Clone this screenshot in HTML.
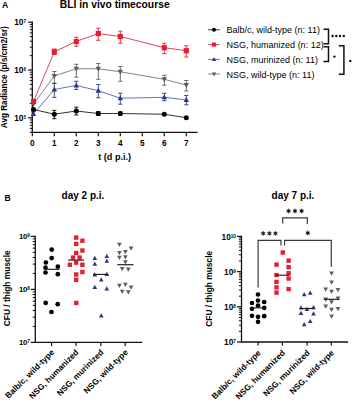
<!DOCTYPE html>
<html><head><meta charset="utf-8"><style>
html,body{margin:0;padding:0;background:#fff;}
svg{display:block;font-family:"Liberation Sans", sans-serif;}
</style></head><body>
<svg width="352" height="400" viewBox="0 0 352 400" font-family="Liberation Sans, sans-serif">
<rect width="352" height="400" fill="#fff"/>
<text x="2.00" y="7.70" font-size="8.6" font-weight="bold" text-anchor="start" fill="#000" >A</text>
<text x="114.70" y="7.60" font-size="10.3" font-weight="bold" text-anchor="middle" fill="#000" >BLI in vivo timecourse</text>
<line x1="32.30" y1="21.60" x2="32.30" y2="132.90" stroke="#111111" stroke-width="1.3"/>
<line x1="28.10" y1="22.20" x2="32.30" y2="22.20" stroke="#111111" stroke-width="1.2"/>
<text x="26.00" y="25.20" font-size="8.3" font-weight="bold" text-anchor="end">10<tspan font-size="4.6" dy="-1.9">7</tspan></text>
<line x1="28.10" y1="70.00" x2="32.30" y2="70.00" stroke="#111111" stroke-width="1.2"/>
<text x="26.00" y="73.00" font-size="8.3" font-weight="bold" text-anchor="end">10<tspan font-size="4.6" dy="-1.9">6</tspan></text>
<line x1="28.10" y1="117.80" x2="32.30" y2="117.80" stroke="#111111" stroke-width="1.2"/>
<text x="26.00" y="120.80" font-size="8.3" font-weight="bold" text-anchor="end">10<tspan font-size="4.6" dy="-1.9">5</tspan></text>
<line x1="29.80" y1="132.19" x2="32.30" y2="132.19" stroke="#111111" stroke-width="1.0"/>
<line x1="29.80" y1="128.40" x2="32.30" y2="128.40" stroke="#111111" stroke-width="1.0"/>
<line x1="29.80" y1="125.20" x2="32.30" y2="125.20" stroke="#111111" stroke-width="1.0"/>
<line x1="29.80" y1="122.43" x2="32.30" y2="122.43" stroke="#111111" stroke-width="1.0"/>
<line x1="29.80" y1="119.99" x2="32.30" y2="119.99" stroke="#111111" stroke-width="1.0"/>
<line x1="29.80" y1="103.41" x2="32.30" y2="103.41" stroke="#111111" stroke-width="1.0"/>
<line x1="29.80" y1="94.99" x2="32.30" y2="94.99" stroke="#111111" stroke-width="1.0"/>
<line x1="29.80" y1="89.02" x2="32.30" y2="89.02" stroke="#111111" stroke-width="1.0"/>
<line x1="29.80" y1="84.39" x2="32.30" y2="84.39" stroke="#111111" stroke-width="1.0"/>
<line x1="29.80" y1="80.60" x2="32.30" y2="80.60" stroke="#111111" stroke-width="1.0"/>
<line x1="29.80" y1="77.40" x2="32.30" y2="77.40" stroke="#111111" stroke-width="1.0"/>
<line x1="29.80" y1="74.63" x2="32.30" y2="74.63" stroke="#111111" stroke-width="1.0"/>
<line x1="29.80" y1="72.19" x2="32.30" y2="72.19" stroke="#111111" stroke-width="1.0"/>
<line x1="29.80" y1="55.61" x2="32.30" y2="55.61" stroke="#111111" stroke-width="1.0"/>
<line x1="29.80" y1="47.19" x2="32.30" y2="47.19" stroke="#111111" stroke-width="1.0"/>
<line x1="29.80" y1="41.22" x2="32.30" y2="41.22" stroke="#111111" stroke-width="1.0"/>
<line x1="29.80" y1="36.59" x2="32.30" y2="36.59" stroke="#111111" stroke-width="1.0"/>
<line x1="29.80" y1="32.80" x2="32.30" y2="32.80" stroke="#111111" stroke-width="1.0"/>
<line x1="29.80" y1="29.60" x2="32.30" y2="29.60" stroke="#111111" stroke-width="1.0"/>
<line x1="29.80" y1="26.83" x2="32.30" y2="26.83" stroke="#111111" stroke-width="1.0"/>
<line x1="29.80" y1="24.39" x2="32.30" y2="24.39" stroke="#111111" stroke-width="1.0"/>
<line x1="31.70" y1="132.30" x2="197.60" y2="132.30" stroke="#111111" stroke-width="1.3"/>
<line x1="32.30" y1="132.30" x2="32.30" y2="136.30" stroke="#111111" stroke-width="1.2"/>
<text x="32.30" y="146.00" font-size="8.2" font-weight="bold" text-anchor="middle" fill="#000" >0</text>
<line x1="54.30" y1="132.30" x2="54.30" y2="136.30" stroke="#111111" stroke-width="1.2"/>
<text x="54.30" y="146.00" font-size="8.2" font-weight="bold" text-anchor="middle" fill="#000" >1</text>
<line x1="76.30" y1="132.30" x2="76.30" y2="136.30" stroke="#111111" stroke-width="1.2"/>
<text x="76.30" y="146.00" font-size="8.2" font-weight="bold" text-anchor="middle" fill="#000" >2</text>
<line x1="98.30" y1="132.30" x2="98.30" y2="136.30" stroke="#111111" stroke-width="1.2"/>
<text x="98.30" y="146.00" font-size="8.2" font-weight="bold" text-anchor="middle" fill="#000" >3</text>
<line x1="120.30" y1="132.30" x2="120.30" y2="136.30" stroke="#111111" stroke-width="1.2"/>
<text x="120.30" y="146.00" font-size="8.2" font-weight="bold" text-anchor="middle" fill="#000" >4</text>
<line x1="142.30" y1="132.30" x2="142.30" y2="136.30" stroke="#111111" stroke-width="1.2"/>
<text x="142.30" y="146.00" font-size="8.2" font-weight="bold" text-anchor="middle" fill="#000" >5</text>
<line x1="164.30" y1="132.30" x2="164.30" y2="136.30" stroke="#111111" stroke-width="1.2"/>
<text x="164.30" y="146.00" font-size="8.2" font-weight="bold" text-anchor="middle" fill="#000" >6</text>
<line x1="186.30" y1="132.30" x2="186.30" y2="136.30" stroke="#111111" stroke-width="1.2"/>
<text x="186.30" y="146.00" font-size="8.2" font-weight="bold" text-anchor="middle" fill="#000" >7</text>
<text x="114.70" y="159.80" font-size="9.1" font-weight="bold" text-anchor="middle" fill="#000" >t (d p.i.)</text>
<text x="0" y="0" font-size="8.2" font-weight="bold" text-anchor="middle" transform="translate(7.2,77.2) rotate(-90)">Avg Radiance (p/s/cm2/sr)</text>
<polyline points="33.50,104.00 54.30,76.00 76.30,68.75 98.30,68.75 120.30,71.75 164.30,79.30 186.30,85.00" fill="none" stroke="#858585" stroke-width="1.0"/>
<polyline points="33.50,114.00 54.30,89.50 76.30,85.45 98.30,90.70 120.30,98.20 164.30,97.30 186.30,100.00" fill="none" stroke="#6a74b4" stroke-width="1.0"/>
<polyline points="33.50,109.50 54.30,114.20 76.30,111.00 98.30,113.50 120.30,113.50 164.30,114.25 186.30,117.70" fill="none" stroke="#333" stroke-width="1.0"/>
<polyline points="33.50,101.50 54.30,51.75 76.30,41.45 98.30,33.50 120.30,36.50 164.30,47.70 186.30,50.70" fill="none" stroke="#d9475e" stroke-width="1.0"/>
<line x1="54.30" y1="71.50" x2="54.30" y2="83.20" stroke="#5e5e5e" stroke-width="0.9"/>
<line x1="52.20" y1="71.50" x2="56.40" y2="71.50" stroke="#5e5e5e" stroke-width="0.9"/>
<line x1="52.20" y1="83.20" x2="56.40" y2="83.20" stroke="#5e5e5e" stroke-width="0.9"/>
<line x1="76.30" y1="64.25" x2="76.30" y2="77.20" stroke="#5e5e5e" stroke-width="0.9"/>
<line x1="74.20" y1="64.25" x2="78.40" y2="64.25" stroke="#5e5e5e" stroke-width="0.9"/>
<line x1="74.20" y1="77.20" x2="78.40" y2="77.20" stroke="#5e5e5e" stroke-width="0.9"/>
<line x1="98.30" y1="63.50" x2="98.30" y2="79.30" stroke="#5e5e5e" stroke-width="0.9"/>
<line x1="96.20" y1="63.50" x2="100.40" y2="63.50" stroke="#5e5e5e" stroke-width="0.9"/>
<line x1="96.20" y1="79.30" x2="100.40" y2="79.30" stroke="#5e5e5e" stroke-width="0.9"/>
<line x1="120.30" y1="66.50" x2="120.30" y2="81.25" stroke="#5e5e5e" stroke-width="0.9"/>
<line x1="118.20" y1="66.50" x2="122.40" y2="66.50" stroke="#5e5e5e" stroke-width="0.9"/>
<line x1="118.20" y1="81.25" x2="122.40" y2="81.25" stroke="#5e5e5e" stroke-width="0.9"/>
<line x1="164.30" y1="75.25" x2="164.30" y2="85.30" stroke="#5e5e5e" stroke-width="0.9"/>
<line x1="162.20" y1="75.25" x2="166.40" y2="75.25" stroke="#5e5e5e" stroke-width="0.9"/>
<line x1="162.20" y1="85.30" x2="166.40" y2="85.30" stroke="#5e5e5e" stroke-width="0.9"/>
<line x1="186.30" y1="80.50" x2="186.30" y2="91.00" stroke="#5e5e5e" stroke-width="0.9"/>
<line x1="184.20" y1="80.50" x2="188.40" y2="80.50" stroke="#5e5e5e" stroke-width="0.9"/>
<line x1="184.20" y1="91.00" x2="188.40" y2="91.00" stroke="#5e5e5e" stroke-width="0.9"/>
<polygon points="33.50,106.92 30.80,102.06 36.20,102.06" fill="#5e5e5e"/>
<polygon points="54.30,78.92 51.60,74.06 57.00,74.06" fill="#5e5e5e"/>
<polygon points="76.30,71.67 73.60,66.81 79.00,66.81" fill="#5e5e5e"/>
<polygon points="98.30,71.67 95.60,66.81 101.00,66.81" fill="#5e5e5e"/>
<polygon points="120.30,74.67 117.60,69.81 123.00,69.81" fill="#5e5e5e"/>
<polygon points="164.30,82.22 161.60,77.36 167.00,77.36" fill="#5e5e5e"/>
<polygon points="186.30,87.92 183.60,83.06 189.00,83.06" fill="#5e5e5e"/>
<line x1="54.30" y1="83.50" x2="54.30" y2="97.40" stroke="#2c3787" stroke-width="0.9"/>
<line x1="52.20" y1="83.50" x2="56.40" y2="83.50" stroke="#2c3787" stroke-width="0.9"/>
<line x1="52.20" y1="97.40" x2="56.40" y2="97.40" stroke="#2c3787" stroke-width="0.9"/>
<line x1="76.30" y1="81.25" x2="76.30" y2="89.50" stroke="#2c3787" stroke-width="0.9"/>
<line x1="74.20" y1="81.25" x2="78.40" y2="81.25" stroke="#2c3787" stroke-width="0.9"/>
<line x1="74.20" y1="89.50" x2="78.40" y2="89.50" stroke="#2c3787" stroke-width="0.9"/>
<line x1="98.30" y1="84.55" x2="98.30" y2="97.75" stroke="#2c3787" stroke-width="0.9"/>
<line x1="96.20" y1="84.55" x2="100.40" y2="84.55" stroke="#2c3787" stroke-width="0.9"/>
<line x1="96.20" y1="97.75" x2="100.40" y2="97.75" stroke="#2c3787" stroke-width="0.9"/>
<line x1="120.30" y1="93.25" x2="120.30" y2="104.20" stroke="#2c3787" stroke-width="0.9"/>
<line x1="118.20" y1="93.25" x2="122.40" y2="93.25" stroke="#2c3787" stroke-width="0.9"/>
<line x1="118.20" y1="104.20" x2="122.40" y2="104.20" stroke="#2c3787" stroke-width="0.9"/>
<line x1="164.30" y1="93.25" x2="164.30" y2="100.75" stroke="#2c3787" stroke-width="0.9"/>
<line x1="162.20" y1="93.25" x2="166.40" y2="93.25" stroke="#2c3787" stroke-width="0.9"/>
<line x1="162.20" y1="100.75" x2="166.40" y2="100.75" stroke="#2c3787" stroke-width="0.9"/>
<line x1="186.30" y1="95.50" x2="186.30" y2="104.80" stroke="#2c3787" stroke-width="0.9"/>
<line x1="184.20" y1="95.50" x2="188.40" y2="95.50" stroke="#2c3787" stroke-width="0.9"/>
<line x1="184.20" y1="104.80" x2="188.40" y2="104.80" stroke="#2c3787" stroke-width="0.9"/>
<polygon points="33.50,111.08 30.80,115.94 36.20,115.94" fill="#2c3787"/>
<polygon points="54.30,86.58 51.60,91.44 57.00,91.44" fill="#2c3787"/>
<polygon points="76.30,82.53 73.60,87.39 79.00,87.39" fill="#2c3787"/>
<polygon points="98.30,87.78 95.60,92.64 101.00,92.64" fill="#2c3787"/>
<polygon points="120.30,95.28 117.60,100.14 123.00,100.14" fill="#2c3787"/>
<polygon points="164.30,94.38 161.60,99.24 167.00,99.24" fill="#2c3787"/>
<polygon points="186.30,97.08 183.60,101.94 189.00,101.94" fill="#2c3787"/>
<line x1="54.30" y1="110.40" x2="54.30" y2="118.70" stroke="#000000" stroke-width="0.9"/>
<line x1="52.20" y1="110.40" x2="56.40" y2="110.40" stroke="#000000" stroke-width="0.9"/>
<line x1="52.20" y1="118.70" x2="56.40" y2="118.70" stroke="#000000" stroke-width="0.9"/>
<line x1="76.30" y1="107.20" x2="76.30" y2="115.00" stroke="#000000" stroke-width="0.9"/>
<line x1="74.20" y1="107.20" x2="78.40" y2="107.20" stroke="#000000" stroke-width="0.9"/>
<line x1="74.20" y1="115.00" x2="78.40" y2="115.00" stroke="#000000" stroke-width="0.9"/>
<line x1="98.30" y1="111.50" x2="98.30" y2="115.50" stroke="#000000" stroke-width="0.9"/>
<line x1="96.20" y1="111.50" x2="100.40" y2="111.50" stroke="#000000" stroke-width="0.9"/>
<line x1="96.20" y1="115.50" x2="100.40" y2="115.50" stroke="#000000" stroke-width="0.9"/>
<line x1="120.30" y1="112.00" x2="120.30" y2="115.00" stroke="#000000" stroke-width="0.9"/>
<line x1="118.20" y1="112.00" x2="122.40" y2="112.00" stroke="#000000" stroke-width="0.9"/>
<line x1="118.20" y1="115.00" x2="122.40" y2="115.00" stroke="#000000" stroke-width="0.9"/>
<circle cx="33.50" cy="109.50" r="2.5" fill="#000000"/>
<circle cx="54.30" cy="114.20" r="2.5" fill="#000000"/>
<circle cx="76.30" cy="111.00" r="2.5" fill="#000000"/>
<circle cx="98.30" cy="113.50" r="2.5" fill="#000000"/>
<circle cx="120.30" cy="113.50" r="2.5" fill="#000000"/>
<circle cx="164.30" cy="114.25" r="2.5" fill="#000000"/>
<circle cx="186.30" cy="117.70" r="2.5" fill="#000000"/>
<line x1="54.30" y1="49.00" x2="54.30" y2="54.50" stroke="#e61e32" stroke-width="0.9"/>
<line x1="52.20" y1="49.00" x2="56.40" y2="49.00" stroke="#e61e32" stroke-width="0.9"/>
<line x1="52.20" y1="54.50" x2="56.40" y2="54.50" stroke="#e61e32" stroke-width="0.9"/>
<line x1="76.30" y1="37.25" x2="76.30" y2="46.25" stroke="#e61e32" stroke-width="0.9"/>
<line x1="74.20" y1="37.25" x2="78.40" y2="37.25" stroke="#e61e32" stroke-width="0.9"/>
<line x1="74.20" y1="46.25" x2="78.40" y2="46.25" stroke="#e61e32" stroke-width="0.9"/>
<line x1="98.30" y1="28.25" x2="98.30" y2="40.25" stroke="#e61e32" stroke-width="0.9"/>
<line x1="96.20" y1="28.25" x2="100.40" y2="28.25" stroke="#e61e32" stroke-width="0.9"/>
<line x1="96.20" y1="40.25" x2="100.40" y2="40.25" stroke="#e61e32" stroke-width="0.9"/>
<line x1="120.30" y1="31.25" x2="120.30" y2="43.25" stroke="#e61e32" stroke-width="0.9"/>
<line x1="118.20" y1="31.25" x2="122.40" y2="31.25" stroke="#e61e32" stroke-width="0.9"/>
<line x1="118.20" y1="43.25" x2="122.40" y2="43.25" stroke="#e61e32" stroke-width="0.9"/>
<line x1="164.30" y1="43.20" x2="164.30" y2="53.70" stroke="#e61e32" stroke-width="0.9"/>
<line x1="162.20" y1="43.20" x2="166.40" y2="43.20" stroke="#e61e32" stroke-width="0.9"/>
<line x1="162.20" y1="53.70" x2="166.40" y2="53.70" stroke="#e61e32" stroke-width="0.9"/>
<line x1="186.30" y1="45.75" x2="186.30" y2="57.00" stroke="#e61e32" stroke-width="0.9"/>
<line x1="184.20" y1="45.75" x2="188.40" y2="45.75" stroke="#e61e32" stroke-width="0.9"/>
<line x1="184.20" y1="57.00" x2="188.40" y2="57.00" stroke="#e61e32" stroke-width="0.9"/>
<rect x="30.90" y="98.90" width="5.2" height="5.2" fill="#e61e32"/>
<rect x="51.70" y="49.15" width="5.2" height="5.2" fill="#e61e32"/>
<rect x="73.70" y="38.85" width="5.2" height="5.2" fill="#e61e32"/>
<rect x="95.70" y="30.90" width="5.2" height="5.2" fill="#e61e32"/>
<rect x="117.70" y="33.90" width="5.2" height="5.2" fill="#e61e32"/>
<rect x="161.70" y="45.10" width="5.2" height="5.2" fill="#e61e32"/>
<rect x="183.70" y="48.10" width="5.2" height="5.2" fill="#e61e32"/>
<line x1="208.20" y1="29.80" x2="219.80" y2="29.80" stroke="#333" stroke-width="1.0"/>
<circle cx="214.00" cy="29.80" r="2.0" fill="#000000"/>
<text x="226.60" y="32.70" font-size="9.0" font-weight="normal" text-anchor="start" fill="#000" >Balb/c, wild-type (n: 11)</text>
<line x1="208.20" y1="44.60" x2="219.80" y2="44.60" stroke="#d9475e" stroke-width="1.0"/>
<rect x="211.90" y="42.50" width="4.2" height="4.2" fill="#e61e32"/>
<text x="226.60" y="47.70" font-size="9.0" font-weight="normal" text-anchor="start" fill="#000" >NSG, humanized (n: 12)</text>
<line x1="208.20" y1="59.40" x2="219.80" y2="59.40" stroke="#6a74b4" stroke-width="1.0"/>
<polygon points="214.00,57.02 211.80,60.98 216.20,60.98" fill="#2c3787"/>
<text x="226.60" y="62.70" font-size="9.0" font-weight="normal" text-anchor="start" fill="#000" >NSG, murinized (n: 11)</text>
<line x1="208.20" y1="74.00" x2="219.80" y2="74.00" stroke="#858585" stroke-width="1.0"/>
<polygon points="214.00,76.38 211.80,72.42 216.20,72.42" fill="#5e5e5e"/>
<text x="226.60" y="77.50" font-size="9.0" font-weight="normal" text-anchor="start" fill="#000" >NSG, wild-type (n: 11)</text>
<polyline points="323.5,29.2 328.5,29.2 328.5,43.8 323.5,43.8" fill="none" stroke="#111" stroke-width="1.5"/>
<polyline points="323.5,46.8 328.5,46.8 328.5,61.6 323.5,61.6" fill="none" stroke="#111" stroke-width="1.5"/>
<polyline points="338.8,45.8 343.9,45.8 343.9,74.2 338.8,74.2" fill="none" stroke="#111" stroke-width="1.5"/>
<circle cx="332.60" cy="36.00" r="1.2" fill="#111"/>
<circle cx="336.30" cy="36.00" r="1.2" fill="#111"/>
<circle cx="340.00" cy="36.00" r="1.2" fill="#111"/>
<circle cx="343.80" cy="36.00" r="1.2" fill="#111"/>
<circle cx="334.40" cy="56.60" r="1.2" fill="#111"/>
<circle cx="350.30" cy="60.90" r="1.2" fill="#111"/>
<text x="4.60" y="200.70" font-size="8.6" font-weight="bold" text-anchor="start" fill="#000" >B</text>
<text x="83.00" y="198.60" font-size="10.0" font-weight="bold" text-anchor="middle" fill="#000" >day 2 p.i.</text>
<text x="293.00" y="198.60" font-size="10.0" font-weight="bold" text-anchor="middle" fill="#000" >day 7 p.i.</text>
<line x1="35.30" y1="235.80" x2="35.30" y2="342.40" stroke="#111111" stroke-width="1.3"/>
<line x1="30.80" y1="342.40" x2="35.30" y2="342.40" stroke="#111111" stroke-width="1.2"/>
<text x="29.90" y="345.40" font-size="7.6" font-weight="bold" text-anchor="end">10<tspan font-size="4.6" dy="-2.5">7</tspan></text>
<line x1="32.70" y1="326.45" x2="35.30" y2="326.45" stroke="#111111" stroke-width="1.0"/>
<line x1="32.70" y1="317.11" x2="35.30" y2="317.11" stroke="#111111" stroke-width="1.0"/>
<line x1="32.70" y1="310.49" x2="35.30" y2="310.49" stroke="#111111" stroke-width="1.0"/>
<line x1="32.70" y1="305.35" x2="35.30" y2="305.35" stroke="#111111" stroke-width="1.0"/>
<line x1="32.70" y1="301.16" x2="35.30" y2="301.16" stroke="#111111" stroke-width="1.0"/>
<line x1="32.70" y1="297.61" x2="35.30" y2="297.61" stroke="#111111" stroke-width="1.0"/>
<line x1="32.70" y1="294.54" x2="35.30" y2="294.54" stroke="#111111" stroke-width="1.0"/>
<line x1="32.70" y1="291.83" x2="35.30" y2="291.83" stroke="#111111" stroke-width="1.0"/>
<line x1="30.80" y1="289.40" x2="35.30" y2="289.40" stroke="#111111" stroke-width="1.2"/>
<text x="29.90" y="292.40" font-size="7.6" font-weight="bold" text-anchor="end">10<tspan font-size="4.6" dy="-2.5">8</tspan></text>
<line x1="32.70" y1="273.45" x2="35.30" y2="273.45" stroke="#111111" stroke-width="1.0"/>
<line x1="32.70" y1="264.11" x2="35.30" y2="264.11" stroke="#111111" stroke-width="1.0"/>
<line x1="32.70" y1="257.49" x2="35.30" y2="257.49" stroke="#111111" stroke-width="1.0"/>
<line x1="32.70" y1="252.35" x2="35.30" y2="252.35" stroke="#111111" stroke-width="1.0"/>
<line x1="32.70" y1="248.16" x2="35.30" y2="248.16" stroke="#111111" stroke-width="1.0"/>
<line x1="32.70" y1="244.61" x2="35.30" y2="244.61" stroke="#111111" stroke-width="1.0"/>
<line x1="32.70" y1="241.54" x2="35.30" y2="241.54" stroke="#111111" stroke-width="1.0"/>
<line x1="32.70" y1="238.83" x2="35.30" y2="238.83" stroke="#111111" stroke-width="1.0"/>
<line x1="30.80" y1="236.40" x2="35.30" y2="236.40" stroke="#111111" stroke-width="1.2"/>
<text x="29.90" y="239.40" font-size="7.6" font-weight="bold" text-anchor="end">10<tspan font-size="4.6" dy="-2.5">9</tspan></text>
<line x1="34.70" y1="342.40" x2="142.20" y2="342.40" stroke="#111111" stroke-width="1.3"/>
<line x1="51.60" y1="342.40" x2="51.60" y2="346.00" stroke="#111111" stroke-width="1.2"/>
<line x1="76.00" y1="342.40" x2="76.00" y2="346.00" stroke="#111111" stroke-width="1.2"/>
<line x1="100.80" y1="342.40" x2="100.80" y2="346.00" stroke="#111111" stroke-width="1.2"/>
<line x1="125.20" y1="342.40" x2="125.20" y2="346.00" stroke="#111111" stroke-width="1.2"/>
<line x1="241.50" y1="235.80" x2="241.50" y2="342.00" stroke="#111111" stroke-width="1.3"/>
<line x1="237.00" y1="342.00" x2="241.50" y2="342.00" stroke="#111111" stroke-width="1.2"/>
<text x="235.90" y="345.40" font-size="8.3" font-weight="bold" text-anchor="end">10<tspan font-size="4.6" dy="-2.0">7</tspan></text>
<line x1="238.90" y1="331.40" x2="241.50" y2="331.40" stroke="#111111" stroke-width="1.0"/>
<line x1="238.90" y1="325.21" x2="241.50" y2="325.21" stroke="#111111" stroke-width="1.0"/>
<line x1="238.90" y1="320.81" x2="241.50" y2="320.81" stroke="#111111" stroke-width="1.0"/>
<line x1="238.90" y1="317.40" x2="241.50" y2="317.40" stroke="#111111" stroke-width="1.0"/>
<line x1="238.90" y1="314.61" x2="241.50" y2="314.61" stroke="#111111" stroke-width="1.0"/>
<line x1="238.90" y1="312.25" x2="241.50" y2="312.25" stroke="#111111" stroke-width="1.0"/>
<line x1="238.90" y1="310.21" x2="241.50" y2="310.21" stroke="#111111" stroke-width="1.0"/>
<line x1="238.90" y1="308.41" x2="241.50" y2="308.41" stroke="#111111" stroke-width="1.0"/>
<line x1="237.00" y1="306.80" x2="241.50" y2="306.80" stroke="#111111" stroke-width="1.2"/>
<text x="235.90" y="310.20" font-size="8.3" font-weight="bold" text-anchor="end">10<tspan font-size="4.6" dy="-2.0">8</tspan></text>
<line x1="238.90" y1="296.20" x2="241.50" y2="296.20" stroke="#111111" stroke-width="1.0"/>
<line x1="238.90" y1="290.01" x2="241.50" y2="290.01" stroke="#111111" stroke-width="1.0"/>
<line x1="238.90" y1="285.61" x2="241.50" y2="285.61" stroke="#111111" stroke-width="1.0"/>
<line x1="238.90" y1="282.20" x2="241.50" y2="282.20" stroke="#111111" stroke-width="1.0"/>
<line x1="238.90" y1="279.41" x2="241.50" y2="279.41" stroke="#111111" stroke-width="1.0"/>
<line x1="238.90" y1="277.05" x2="241.50" y2="277.05" stroke="#111111" stroke-width="1.0"/>
<line x1="238.90" y1="275.01" x2="241.50" y2="275.01" stroke="#111111" stroke-width="1.0"/>
<line x1="238.90" y1="273.21" x2="241.50" y2="273.21" stroke="#111111" stroke-width="1.0"/>
<line x1="237.00" y1="271.60" x2="241.50" y2="271.60" stroke="#111111" stroke-width="1.2"/>
<text x="235.90" y="275.00" font-size="8.3" font-weight="bold" text-anchor="end">10<tspan font-size="4.6" dy="-2.0">9</tspan></text>
<line x1="238.90" y1="261.00" x2="241.50" y2="261.00" stroke="#111111" stroke-width="1.0"/>
<line x1="238.90" y1="254.81" x2="241.50" y2="254.81" stroke="#111111" stroke-width="1.0"/>
<line x1="238.90" y1="250.41" x2="241.50" y2="250.41" stroke="#111111" stroke-width="1.0"/>
<line x1="238.90" y1="247.00" x2="241.50" y2="247.00" stroke="#111111" stroke-width="1.0"/>
<line x1="238.90" y1="244.21" x2="241.50" y2="244.21" stroke="#111111" stroke-width="1.0"/>
<line x1="238.90" y1="241.85" x2="241.50" y2="241.85" stroke="#111111" stroke-width="1.0"/>
<line x1="238.90" y1="239.81" x2="241.50" y2="239.81" stroke="#111111" stroke-width="1.0"/>
<line x1="238.90" y1="238.01" x2="241.50" y2="238.01" stroke="#111111" stroke-width="1.0"/>
<line x1="237.00" y1="236.40" x2="241.50" y2="236.40" stroke="#111111" stroke-width="1.2"/>
<text x="235.90" y="239.80" font-size="8.3" font-weight="bold" text-anchor="end">10<tspan font-size="4.6" dy="-2.0">10</tspan></text>
<line x1="240.90" y1="342.00" x2="348.00" y2="342.00" stroke="#111111" stroke-width="1.3"/>
<line x1="258.10" y1="342.00" x2="258.10" y2="345.60" stroke="#111111" stroke-width="1.2"/>
<line x1="282.40" y1="342.00" x2="282.40" y2="345.60" stroke="#111111" stroke-width="1.2"/>
<line x1="307.10" y1="342.00" x2="307.10" y2="345.60" stroke="#111111" stroke-width="1.2"/>
<line x1="331.30" y1="342.00" x2="331.30" y2="345.60" stroke="#111111" stroke-width="1.2"/>
<text x="0" y="0" font-size="8.4" font-weight="bold" text-anchor="middle" transform="translate(10.0,288.3) rotate(-90)">CFU / thigh muscle</text>
<text x="0" y="0" font-size="8.4" font-weight="bold" text-anchor="middle" transform="translate(212.3,288.8) rotate(-90)">CFU / thigh muscle</text>
<text x="0" y="0" font-size="8.3" font-weight="bold" text-anchor="end" transform="translate(54.80,352.80) rotate(-45)">Balb/c, wild-type</text>
<text x="0" y="0" font-size="8.3" font-weight="bold" text-anchor="end" transform="translate(79.20,352.80) rotate(-45)">NSG, humanized</text>
<text x="0" y="0" font-size="8.3" font-weight="bold" text-anchor="end" transform="translate(104.00,352.80) rotate(-45)">NSG, murinized</text>
<text x="0" y="0" font-size="8.3" font-weight="bold" text-anchor="end" transform="translate(128.40,352.80) rotate(-45)">NSG, wild-type</text>
<text x="0" y="0" font-size="8.3" font-weight="bold" text-anchor="end" transform="translate(261.30,353.40) rotate(-45)">Balb/c, wild-type</text>
<text x="0" y="0" font-size="8.3" font-weight="bold" text-anchor="end" transform="translate(285.60,353.40) rotate(-45)">NSG, humanized</text>
<text x="0" y="0" font-size="8.3" font-weight="bold" text-anchor="end" transform="translate(310.30,353.40) rotate(-45)">NSG, murinized</text>
<text x="0" y="0" font-size="8.3" font-weight="bold" text-anchor="end" transform="translate(334.50,353.40) rotate(-45)">NSG, wild-type</text>
<circle cx="51.70" cy="249.60" r="2.35" fill="#000000"/>
<circle cx="51.70" cy="258.10" r="2.35" fill="#000000"/>
<circle cx="45.90" cy="262.50" r="2.35" fill="#000000"/>
<circle cx="45.50" cy="267.70" r="2.35" fill="#000000"/>
<circle cx="45.50" cy="272.50" r="2.35" fill="#000000"/>
<circle cx="57.80" cy="266.70" r="2.35" fill="#000000"/>
<circle cx="57.80" cy="274.20" r="2.35" fill="#000000"/>
<circle cx="45.70" cy="302.90" r="2.35" fill="#000000"/>
<circle cx="57.70" cy="304.20" r="2.35" fill="#000000"/>
<circle cx="51.50" cy="312.00" r="2.35" fill="#000000"/>
<rect x="74.00" y="235.40" width="4.4" height="4.4" fill="#e61e32"/>
<rect x="80.20" y="238.55" width="4.4" height="4.4" fill="#e61e32"/>
<rect x="74.00" y="241.70" width="4.4" height="4.4" fill="#e61e32"/>
<rect x="80.20" y="248.30" width="4.4" height="4.4" fill="#e61e32"/>
<rect x="74.00" y="250.80" width="4.4" height="4.4" fill="#e61e32"/>
<rect x="70.85" y="255.40" width="4.4" height="4.4" fill="#e61e32"/>
<rect x="77.35" y="255.40" width="4.4" height="4.4" fill="#e61e32"/>
<rect x="74.00" y="260.40" width="4.4" height="4.4" fill="#e61e32"/>
<rect x="67.70" y="262.55" width="4.4" height="4.4" fill="#e61e32"/>
<rect x="80.20" y="262.55" width="4.4" height="4.4" fill="#e61e32"/>
<rect x="80.20" y="269.80" width="4.4" height="4.4" fill="#e61e32"/>
<rect x="74.00" y="272.30" width="4.4" height="4.4" fill="#e61e32"/>
<rect x="74.00" y="277.55" width="4.4" height="4.4" fill="#e61e32"/>
<rect x="74.10" y="300.80" width="4.4" height="4.4" fill="#e61e32"/>
<polygon points="94.80,255.76 92.45,259.99 97.15,259.99" fill="#2c3787"/>
<polygon points="106.80,253.76 104.45,257.99 109.15,257.99" fill="#2c3787"/>
<polygon points="106.80,258.46 104.45,262.69 109.15,262.69" fill="#2c3787"/>
<polygon points="94.80,261.46 92.45,265.69 97.15,265.69" fill="#2c3787"/>
<polygon points="94.80,272.16 92.45,276.39 97.15,276.39" fill="#2c3787"/>
<polygon points="106.80,271.86 104.45,276.09 109.15,276.09" fill="#2c3787"/>
<polygon points="101.20,277.16 98.85,281.39 103.55,281.39" fill="#2c3787"/>
<polygon points="94.80,284.66 92.45,288.89 97.15,288.89" fill="#2c3787"/>
<polygon points="106.80,286.16 104.45,290.39 109.15,290.39" fill="#2c3787"/>
<polygon points="101.30,313.36 98.95,317.59 103.65,317.59" fill="#2c3787"/>
<polygon points="119.40,247.04 117.05,242.81 121.75,242.81" fill="#5e5e5e"/>
<polygon points="131.10,250.74 128.75,246.51 133.45,246.51" fill="#5e5e5e"/>
<polygon points="119.40,255.14 117.05,250.91 121.75,250.91" fill="#5e5e5e"/>
<polygon points="125.40,254.34 123.05,250.11 127.75,250.11" fill="#5e5e5e"/>
<polygon points="119.40,260.04 117.05,255.81 121.75,255.81" fill="#5e5e5e"/>
<polygon points="125.40,259.54 123.05,255.31 127.75,255.31" fill="#5e5e5e"/>
<polygon points="125.40,264.44 123.05,260.21 127.75,260.21" fill="#5e5e5e"/>
<polygon points="122.20,271.34 119.85,267.11 124.55,267.11" fill="#5e5e5e"/>
<polygon points="128.30,271.84 125.95,267.61 130.65,267.61" fill="#5e5e5e"/>
<polygon points="119.40,288.04 117.05,283.81 121.75,283.81" fill="#5e5e5e"/>
<polygon points="125.40,287.04 123.05,282.81 127.75,282.81" fill="#5e5e5e"/>
<polygon points="131.10,289.64 128.75,285.41 133.45,285.41" fill="#5e5e5e"/>
<polygon points="122.20,294.04 119.85,289.81 124.55,289.81" fill="#5e5e5e"/>
<polygon points="128.30,294.54 125.95,290.31 130.65,290.31" fill="#5e5e5e"/>
<line x1="44.50" y1="269.30" x2="59.50" y2="269.30" stroke="#222" stroke-width="1.2"/>
<line x1="68.00" y1="260.10" x2="84.00" y2="260.10" stroke="#222" stroke-width="1.2"/>
<line x1="93.00" y1="274.40" x2="108.30" y2="274.40" stroke="#222" stroke-width="1.2"/>
<line x1="117.30" y1="264.70" x2="133.50" y2="264.70" stroke="#222" stroke-width="1.2"/>
<circle cx="258.00" cy="294.50" r="2.35" fill="#000000"/>
<circle cx="258.00" cy="300.50" r="2.35" fill="#000000"/>
<circle cx="252.00" cy="303.00" r="2.35" fill="#000000"/>
<circle cx="264.20" cy="302.00" r="2.35" fill="#000000"/>
<circle cx="258.00" cy="305.50" r="2.35" fill="#000000"/>
<circle cx="252.00" cy="308.80" r="2.35" fill="#000000"/>
<circle cx="264.20" cy="307.80" r="2.35" fill="#000000"/>
<circle cx="252.00" cy="315.80" r="2.35" fill="#000000"/>
<circle cx="258.00" cy="316.80" r="2.35" fill="#000000"/>
<circle cx="264.20" cy="316.20" r="2.35" fill="#000000"/>
<circle cx="258.00" cy="321.80" r="2.35" fill="#000000"/>
<rect x="280.55" y="250.30" width="4.4" height="4.4" fill="#e61e32"/>
<rect x="274.30" y="262.40" width="4.4" height="4.4" fill="#e61e32"/>
<rect x="286.40" y="258.40" width="4.4" height="4.4" fill="#e61e32"/>
<rect x="286.40" y="265.05" width="4.4" height="4.4" fill="#e61e32"/>
<rect x="286.40" y="271.00" width="4.4" height="4.4" fill="#e61e32"/>
<rect x="274.30" y="272.90" width="4.4" height="4.4" fill="#e61e32"/>
<rect x="286.40" y="276.30" width="4.4" height="4.4" fill="#e61e32"/>
<rect x="274.30" y="279.70" width="4.4" height="4.4" fill="#e61e32"/>
<rect x="274.30" y="285.20" width="4.4" height="4.4" fill="#e61e32"/>
<rect x="286.40" y="286.90" width="4.4" height="4.4" fill="#e61e32"/>
<rect x="274.30" y="290.40" width="4.4" height="4.4" fill="#e61e32"/>
<polygon points="304.20,291.96 301.85,296.19 306.55,296.19" fill="#2c3787"/>
<polygon points="310.20,290.46 307.85,294.69 312.55,294.69" fill="#2c3787"/>
<polygon points="301.00,305.26 298.65,309.49 303.35,309.49" fill="#2c3787"/>
<polygon points="307.00,306.66 304.65,310.89 309.35,310.89" fill="#2c3787"/>
<polygon points="313.50,304.96 311.15,309.19 315.85,309.19" fill="#2c3787"/>
<polygon points="301.00,310.66 298.65,314.89 303.35,314.89" fill="#2c3787"/>
<polygon points="313.50,311.26 311.15,315.49 315.85,315.49" fill="#2c3787"/>
<polygon points="310.20,318.66 307.85,322.89 312.55,322.89" fill="#2c3787"/>
<polygon points="304.20,321.96 301.85,326.19 306.55,326.19" fill="#2c3787"/>
<polygon points="331.55,275.79 329.15,271.47 333.95,271.47" fill="#5e5e5e"/>
<polygon points="331.55,284.79 329.15,280.47 333.95,280.47" fill="#5e5e5e"/>
<polygon points="325.70,291.84 323.30,287.52 328.10,287.52" fill="#5e5e5e"/>
<polygon points="331.55,294.09 329.15,289.77 333.95,289.77" fill="#5e5e5e"/>
<polygon points="338.00,292.29 335.60,287.97 340.40,287.97" fill="#5e5e5e"/>
<polygon points="325.70,301.89 323.30,297.57 328.10,297.57" fill="#5e5e5e"/>
<polygon points="338.00,300.84 335.60,296.52 340.40,296.52" fill="#5e5e5e"/>
<polygon points="331.55,304.59 329.15,300.27 333.95,300.27" fill="#5e5e5e"/>
<polygon points="325.70,308.79 323.30,304.47 328.10,304.47" fill="#5e5e5e"/>
<polygon points="331.55,312.09 329.15,307.77 333.95,307.77" fill="#5e5e5e"/>
<polygon points="338.00,311.34 335.60,307.02 340.40,307.02" fill="#5e5e5e"/>
<polygon points="331.55,318.84 329.15,314.52 333.95,314.52" fill="#5e5e5e"/>
<line x1="250.50" y1="307.80" x2="266.00" y2="307.80" stroke="#222" stroke-width="1.2"/>
<line x1="275.50" y1="275.20" x2="289.50" y2="275.20" stroke="#222" stroke-width="1.2"/>
<line x1="300.00" y1="308.50" x2="314.50" y2="308.50" stroke="#222" stroke-width="1.2"/>
<line x1="323.80" y1="299.30" x2="339.50" y2="299.30" stroke="#222" stroke-width="1.2"/>
<polyline points="258.1,287.6 258.1,240.3 281.0,240.3 281.0,245.6" fill="none" stroke="#3a3a3a" stroke-width="1.2"/>
<polyline points="284.6,245.6 284.6,240.3 331.3,240.3 331.3,266.8" fill="none" stroke="#3a3a3a" stroke-width="1.2"/>
<polyline points="282.7,223.6 282.7,217.9 307.3,217.9 307.3,223.9" fill="none" stroke="#3a3a3a" stroke-width="1.2"/>
<polygon points="263.20,230.95 263.72,232.49 265.32,232.18 264.25,233.40 265.32,234.62 263.72,234.31 263.20,235.85 262.68,234.31 261.08,234.62 262.15,233.40 261.08,232.18 262.68,232.49" fill="#111" stroke="#111" stroke-width="0.35" stroke-linejoin="round"/>
<polygon points="269.40,230.95 269.92,232.49 271.52,232.18 270.45,233.40 271.52,234.62 269.92,234.31 269.40,235.85 268.88,234.31 267.28,234.62 268.35,233.40 267.28,232.18 268.88,232.49" fill="#111" stroke="#111" stroke-width="0.35" stroke-linejoin="round"/>
<polygon points="275.50,230.95 276.02,232.49 277.62,232.18 276.55,233.40 277.62,234.62 276.02,234.31 275.50,235.85 274.98,234.31 273.38,234.62 274.45,233.40 273.38,232.18 274.98,232.49" fill="#111" stroke="#111" stroke-width="0.35" stroke-linejoin="round"/>
<polygon points="288.60,208.55 289.12,210.09 290.72,209.78 289.65,211.00 290.72,212.22 289.12,211.91 288.60,213.45 288.08,211.91 286.48,212.22 287.55,211.00 286.48,209.78 288.08,210.09" fill="#111" stroke="#111" stroke-width="0.35" stroke-linejoin="round"/>
<polygon points="295.00,208.55 295.52,210.09 297.12,209.78 296.05,211.00 297.12,212.22 295.52,211.91 295.00,213.45 294.48,211.91 292.88,212.22 293.95,211.00 292.88,209.78 294.48,210.09" fill="#111" stroke="#111" stroke-width="0.35" stroke-linejoin="round"/>
<polygon points="301.60,208.55 302.12,210.09 303.72,209.78 302.65,211.00 303.72,212.22 302.12,211.91 301.60,213.45 301.08,211.91 299.48,212.22 300.55,211.00 299.48,209.78 301.08,210.09" fill="#111" stroke="#111" stroke-width="0.35" stroke-linejoin="round"/>
<polygon points="307.80,230.55 308.32,232.09 309.92,231.78 308.85,233.00 309.92,234.22 308.32,233.91 307.80,235.45 307.28,233.91 305.68,234.22 306.75,233.00 305.68,231.78 307.28,232.09" fill="#111" stroke="#111" stroke-width="0.35" stroke-linejoin="round"/>
</svg>
</body></html>
